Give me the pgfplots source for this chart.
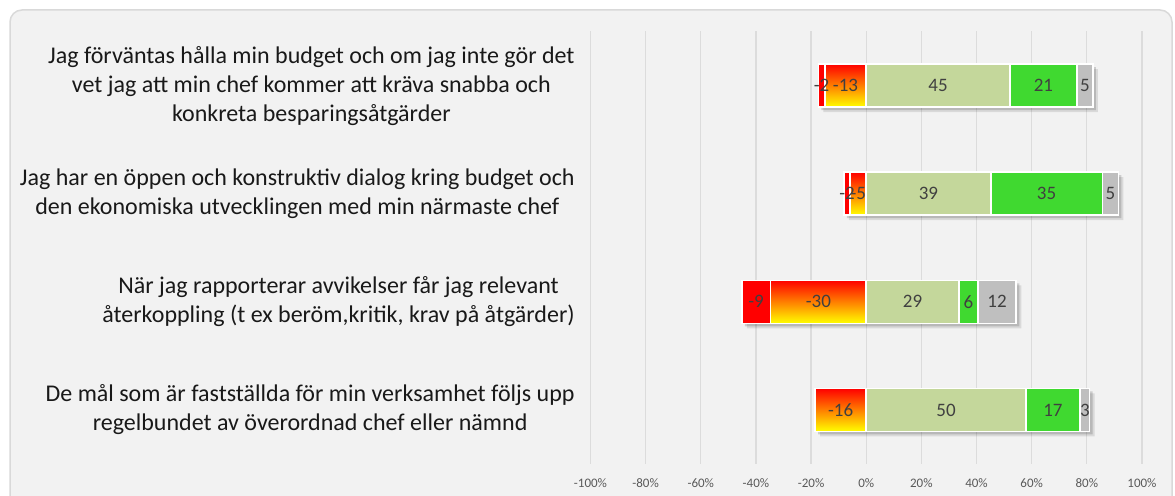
\documentclass[border=0pt]{standalone}
\usepackage{pgfplots}
\pgfplotsset{compat=1.18}
\usepackage{fontspec}
\setmainfont{Carlito}
\definecolor{bg}{HTML}{F2F2F2}
\definecolor{framec}{HTML}{D9D9D9}
\definecolor{gridc}{HTML}{DCDCDC}
\definecolor{lgreen}{HTML}{C4D79B}
\definecolor{bgreen}{HTML}{40D930}
\definecolor{bgray}{HTML}{BFBFBF}
\definecolor{lbl}{HTML}{404040}
\definecolor{tickc}{HTML}{595959}
% vertical red->yellow gradient repeated for each of the four bar rows
\pgfdeclareverticalshading{negshade}{100bp}{color(0bp)=(yellow); color(25bp)=(yellow);
  color(30.852bp)=(red); color(39.716bp)=(yellow); color(45.568bp)=(red);
  color(54.432bp)=(yellow); color(60.284bp)=(red); color(69.148bp)=(yellow);
  color(75bp)=(red); color(100bp)=(red)}
\pgfplotsset{
  base/.style={
    scale only axis, width=275.75pt, height=216.25pt,
    xmin=-86.4, xmax=86.4, ymin=-0.5, ymax=3.5, y dir=reverse,
    bar width=21.5pt, clip=false,
  },
  hid/.style={base, hide axis},
  lab/.style={nodes near coords, /pgf/number format/assume math mode=true,
    every node near coord/.append style={font=\fontsize{9.5}{11}\selectfont, text=lbl}},
  seg/.style={draw=white, line width=0.8pt},
}
\begin{document}
\begin{tikzpicture}
\path[use as bounding box] (0,0) rectangle (587.5pt,248pt);
\fill[white] (0,0) rectangle (587.5pt,248pt);
\draw[framec, fill=bg, rounded corners=6pt, line width=0.75pt] (5pt,-10pt) rectangle (586pt,243pt);
% grid and labels
\begin{axis}[base, at={(295.25pt,16pt)}, anchor=south west,
  axis line style={draw=none}, major tick length=0pt,
  xtick={-86.4,-69.12,-51.84,-34.56,-17.28,0,17.28,34.56,51.84,69.12,86.4},
  xticklabels={-100\%,-80\%,-60\%,-40\%,-20\%,0\%,20\%,40\%,60\%,80\%,100\%},
  xmajorgrids, grid style={gridc, line width=0.6pt},
  ytick={0,1,2,3},
  yticklabels={
    {Jag förväntas hålla min budget och om jag inte gör det\\vet jag att min chef kommer att kräva snabba och\\konkreta besparingsåtgärder},
    {Jag har en öppen och konstruktiv dialog kring budget och\\den ekonomiska utvecklingen med min närmaste chef},
    {När jag rapporterar avvikelser får jag relevant\\återkoppling (t ex beröm,kritik, krav på åtgärder)},
    {De mål som är fastställda för min verksamhet följs upp\\regelbundet av överordnad chef eller nämnd}},
  yticklabel style={align=center, anchor=east, inner sep=0pt, xshift=-7.75pt,
    font=\fontsize{12}{14.5}\selectfont, text=black!90},
  xticklabel style={anchor=center, inner sep=0pt, yshift=-9.5pt,
    font=\fontsize{6.5}{7}\selectfont, text=tickc},
]
\end{axis}
% soft shadows
\begin{axis}[hid, at={(297.75pt,13.5pt)}, anchor=south west, xbar]
\addplot[bar shift=0pt, fill=black, draw=none, opacity=0.10] coordinates {(-15,0)(-7,1)(-39,2)(-16,3)};
\addplot[bar shift=0pt, fill=black, draw=none, opacity=0.10] coordinates {(71,0)(79,1)(47,2)(70,3)};
\end{axis}
\begin{axis}[hid, at={(296.75pt,14.5pt)}, anchor=south west, xbar]
\addplot[bar shift=0pt, fill=black, draw=none, opacity=0.15] coordinates {(-15,0)(-7,1)(-39,2)(-16,3)};
\addplot[bar shift=0pt, fill=black, draw=none, opacity=0.15] coordinates {(71,0)(79,1)(47,2)(70,3)};
\end{axis}
% negative side
\begin{axis}[hid, at={(295.25pt,16pt)}, anchor=south west, xbar stacked, lab]
\addplot[seg, shade, shading=negshade] coordinates {(-13,0)(-5,1)(-30,2)(-16,3)};
\addplot[seg, fill=red] coordinates {(-2,0)(-2,1)(-9,2)(0,3)};
\end{axis}
% positive side
\begin{axis}[hid, at={(295.25pt,16pt)}, anchor=south west, xbar stacked, lab]
\addplot[seg, fill=lgreen] coordinates {(45,0)(39,1)(29,2)(50,3)};
\addplot[seg, fill=bgreen] coordinates {(21,0)(35,1)(6,2)(17,3)};
\addplot[seg, fill=bgray] coordinates {(5,0)(5,1)(12,2)(3,3)};
\end{axis}
\end{tikzpicture}
\end{document}
